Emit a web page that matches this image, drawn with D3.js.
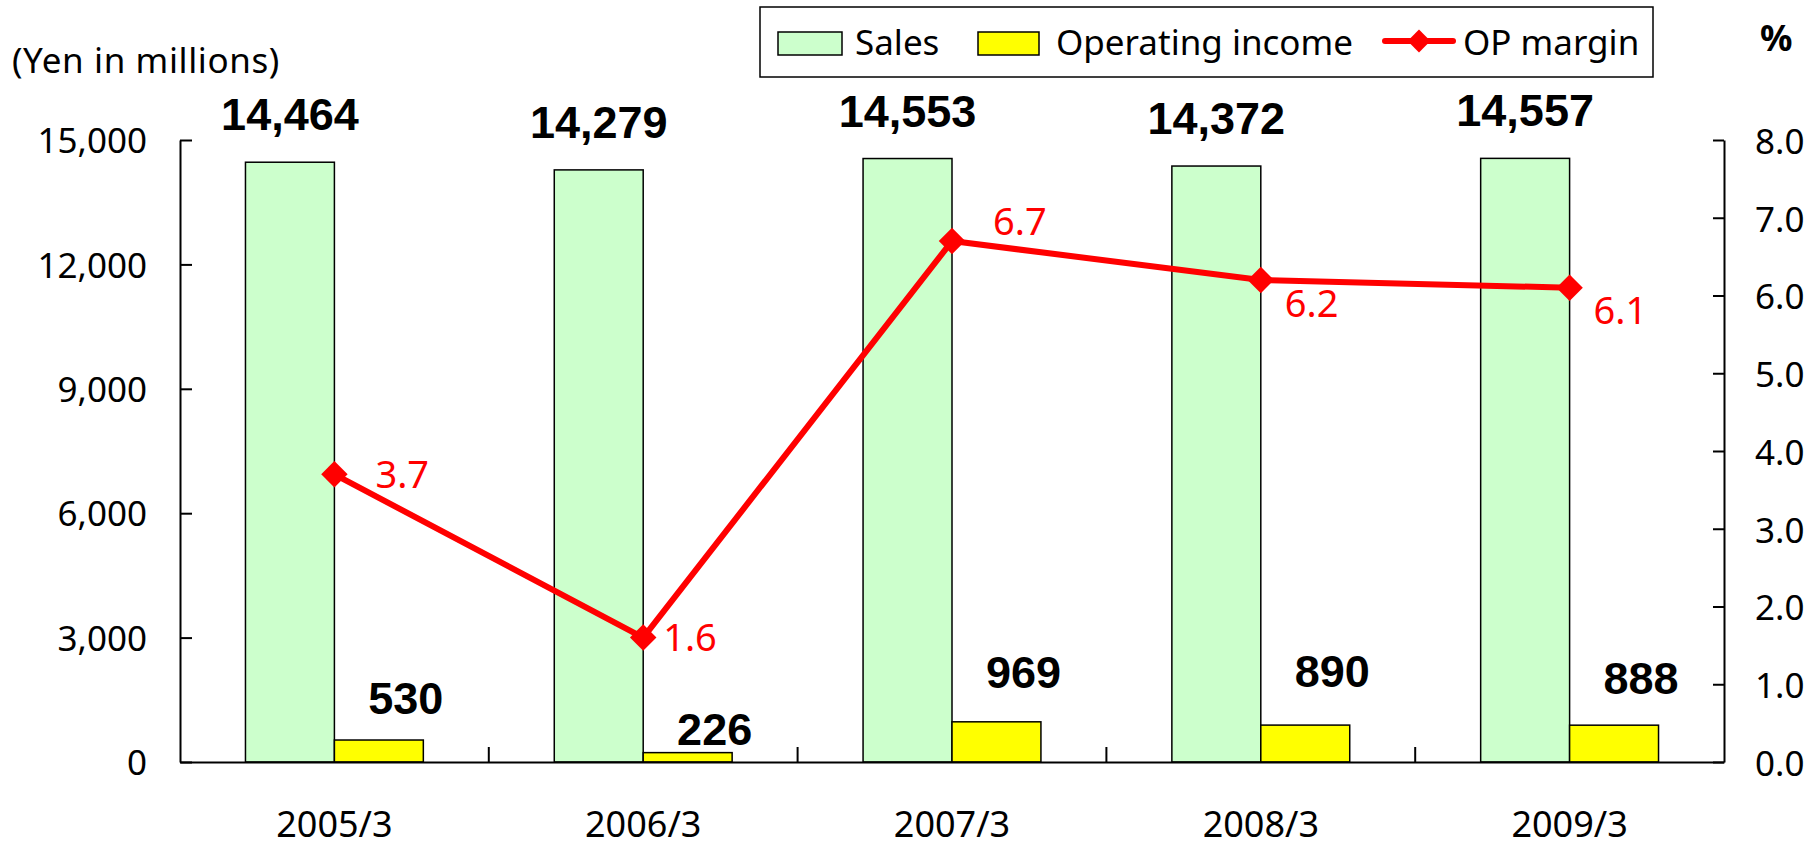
<!DOCTYPE html>
<html>
<head>
<meta charset="utf-8">
<script src="https://cdn.jsdelivr.net/npm/d3@7"></script>
<style>
  body { margin: 0; background: #fff; }
  text { font-family: "Noto Sans", sans-serif; fill: #000; }
  .bold { font-family: "Liberation Sans", Arial, sans-serif; font-weight: bold; }
</style>
</head>
<body>
<svg id="chart" width="1818" height="845"></svg>
<script>
// ---- data ----
var years = ["2005/3", "2006/3", "2007/3", "2008/3", "2009/3"];
var sales = [14464, 14279, 14553, 14372, 14557];
var opIncome = [530, 226, 969, 890, 888];
var opMargin = [3.7, 1.6, 6.7, 6.2, 6.1];
var leftTicks = [0, 3000, 6000, 9000, 12000, 15000];
var rightTicks = [0, 1, 2, 3, 4, 5, 6, 7, 8];
// label placement (hand-nudged in the original chart)
var marginLabelPlace = ["right", "near", "above", "below", "below"];
var opLabelLift = [42, 24, 50, 54, 47];

var svg = d3.select("#chart");

var plotL = 180, plotR = 1724, plotT = 140, plotB = 762;

var x = d3.scaleBand().domain(years).range([plotL, plotR]).padding(0);
var y = d3.scaleLinear().domain([0, 15000]).range([plotB, plotT]);
var y2 = d3.scaleLinear().domain([0, 8]).range([plotB, plotT]);
var bw = x.step() * 0.288;

function center(d) { return x(d) + x.bandwidth() / 2; }

// ---- bars ----
svg.selectAll("rect.sales")
    .data(years)
    .enter()
    .append("rect")
    .attr("class", "sales")
    .attr("x", function(d) { return center(d) - bw; })
    .attr("y", function(d, i) { return y(sales[i]); })
    .attr("width", bw)
    .attr("height", function(d, i) { return plotB - y(sales[i]); })
    .attr("fill", "#ccffcc")
    .attr("stroke", "#000")
    .attr("stroke-width", 1.5);

svg.selectAll("rect.op")
    .data(years)
    .enter()
    .append("rect")
    .attr("class", "op")
    .attr("x", function(d) { return center(d); })
    .attr("y", function(d, i) { return y(opIncome[i]); })
    .attr("width", bw)
    .attr("height", function(d, i) { return plotB - y(opIncome[i]); })
    .attr("fill", "#ffff00")
    .attr("stroke", "#000")
    .attr("stroke-width", 1.5);

// ---- axes ----
var axL = svg.append("g")
    .attr("transform", "translate(" + plotL + ",0)")
    .call(d3.axisLeft(y).tickValues(leftTicks).tickFormat(d3.format(","))
        .tickSizeInner(-12).tickSizeOuter(0).tickPadding(33));

var axR = svg.append("g")
    .attr("transform", "translate(" + plotR + ",0)")
    .call(d3.axisRight(y2).tickValues(rightTicks).tickFormat(d3.format(".1f"))
        .tickSizeInner(-11).tickSizeOuter(0).tickPadding(31));

var axB = svg.append("g")
    .attr("transform", "translate(0," + plotB + ")")
    .call(d3.axisBottom(x).tickSize(0).tickPadding(49));

[axL, axR, axB].forEach(function(a) {
    a.selectAll("path, line").attr("stroke", "#000").attr("stroke-width", 2);
    a.selectAll("text").style("font-family", "'Noto Sans', sans-serif").attr("fill", "#000");
});
axL.selectAll("text").style("font-size", "35px").attr("dy", "0.36em");
axR.selectAll("text").style("font-size", "35px").attr("dy", "0.38em");
axB.selectAll("text").style("font-size", "36px");

// category divider ticks on the baseline
svg.selectAll("line.divider")
    .data(years.slice(1))
    .enter()
    .append("line")
    .attr("x1", function(d) { return x(d); })
    .attr("x2", function(d) { return x(d); })
    .attr("y1", plotB)
    .attr("y2", plotB - 15)
    .attr("stroke", "#000")
    .attr("stroke-width", 2);

// ---- bar labels ----
svg.selectAll("text.salesLbl")
    .data(years)
    .enter()
    .append("text")
    .attr("class", "bold")
    .attr("x", function(d) { return center(d) - bw / 2; })
    .attr("y", function(d, i) { return y(sales[i]) - 32; })
    .attr("text-anchor", "middle")
    .style("font-size", "45px")
    .text(function(d, i) { return d3.format(",")(sales[i]); });

svg.selectAll("text.opLbl")
    .data(years)
    .enter()
    .append("text")
    .attr("class", "bold")
    .attr("x", function(d) { return center(d) + bw / 2 + 27; })
    .attr("y", function(d, i) { return y(opIncome[i]) - opLabelLift[i]; })
    .attr("dy", "0.36em")
    .attr("text-anchor", "middle")
    .style("font-size", "45px")
    .text(function(d, i) { return d3.format(",")(opIncome[i]); });

// ---- OP margin line ----
var line = d3.line()
    .x(function(d, i) { return center(years[i]); })
    .y(function(d) { return y2(d); });

svg.append("path")
    .datum(opMargin)
    .attr("d", line)
    .attr("fill", "none")
    .attr("stroke", "#ff0000")
    .attr("stroke-width", 6)
    .attr("stroke-linejoin", "round");

var diamond = d3.symbol().type(d3.symbolSquare).size(350);

svg.selectAll("path.marker")
    .data(opMargin)
    .enter()
    .append("path")
    .attr("d", diamond)
    .attr("transform", function(d, i) {
        return "translate(" + center(years[i]) + "," + y2(d) + ") rotate(45)";
    })
    .attr("fill", "#ff0000");

var placeOffset = {
    right: [41, 0], near: [20, 0], above: [41, -20], below: [24, 23]
};

svg.selectAll("text.marginLbl")
    .data(opMargin)
    .enter()
    .append("text")
    .attr("x", function(d, i) { return center(years[i]) + placeOffset[marginLabelPlace[i]][0]; })
    .attr("y", function(d, i) { return y2(d) + placeOffset[marginLabelPlace[i]][1]; })
    .attr("dy", "0.36em")
    .attr("text-anchor", "start")
    .style("font-size", "38px")
    .style("fill", "#ff0000")
    .text(function(d) { return d3.format(".1f")(d); });

// ---- unit labels ----
svg.append("text")
    .attr("x", 12)
    .attr("y", 73)
    .style("font-size", "35px")
    .style("letter-spacing", "0.6px")
    .text("(Yen in millions)");

svg.append("text")
    .attr("x", 1760)
    .attr("y", 51)
    .style("font-size", "36px")
    .style("font-weight", "bold")
    .text("%");

// ---- legend ----
var legend = svg.append("g");
legend.append("rect")
    .attr("x", 760).attr("y", 7)
    .attr("width", 893).attr("height", 70)
    .attr("fill", "#fff")
    .attr("stroke", "#000")
    .attr("stroke-width", 1.5);

legend.append("rect")
    .attr("x", 778).attr("y", 32).attr("width", 64).attr("height", 23)
    .attr("fill", "#ccffcc").attr("stroke", "#000").attr("stroke-width", 1.5);
legend.append("text")
    .attr("x", 855).attr("y", 55)
    .style("font-size", "35px")
    .text("Sales");

legend.append("rect")
    .attr("x", 978).attr("y", 32).attr("width", 61).attr("height", 23)
    .attr("fill", "#ffff00").attr("stroke", "#000").attr("stroke-width", 1.5);
legend.append("text")
    .attr("x", 1056).attr("y", 55)
    .style("font-size", "35px")
    .text("Operating income");

legend.append("line")
    .attr("x1", 1385).attr("x2", 1453).attr("y1", 41).attr("y2", 41)
    .attr("stroke", "#ff0000").attr("stroke-width", 6).attr("stroke-linecap", "round");
legend.append("path")
    .attr("d", d3.symbol().type(d3.symbolSquare).size(260))
    .attr("transform", "translate(1419,41) rotate(45)")
    .attr("fill", "#ff0000");
legend.append("text")
    .attr("x", 1463).attr("y", 55)
    .style("font-size", "35px")
    .text("OP margin");
</script>
</body>
</html>
